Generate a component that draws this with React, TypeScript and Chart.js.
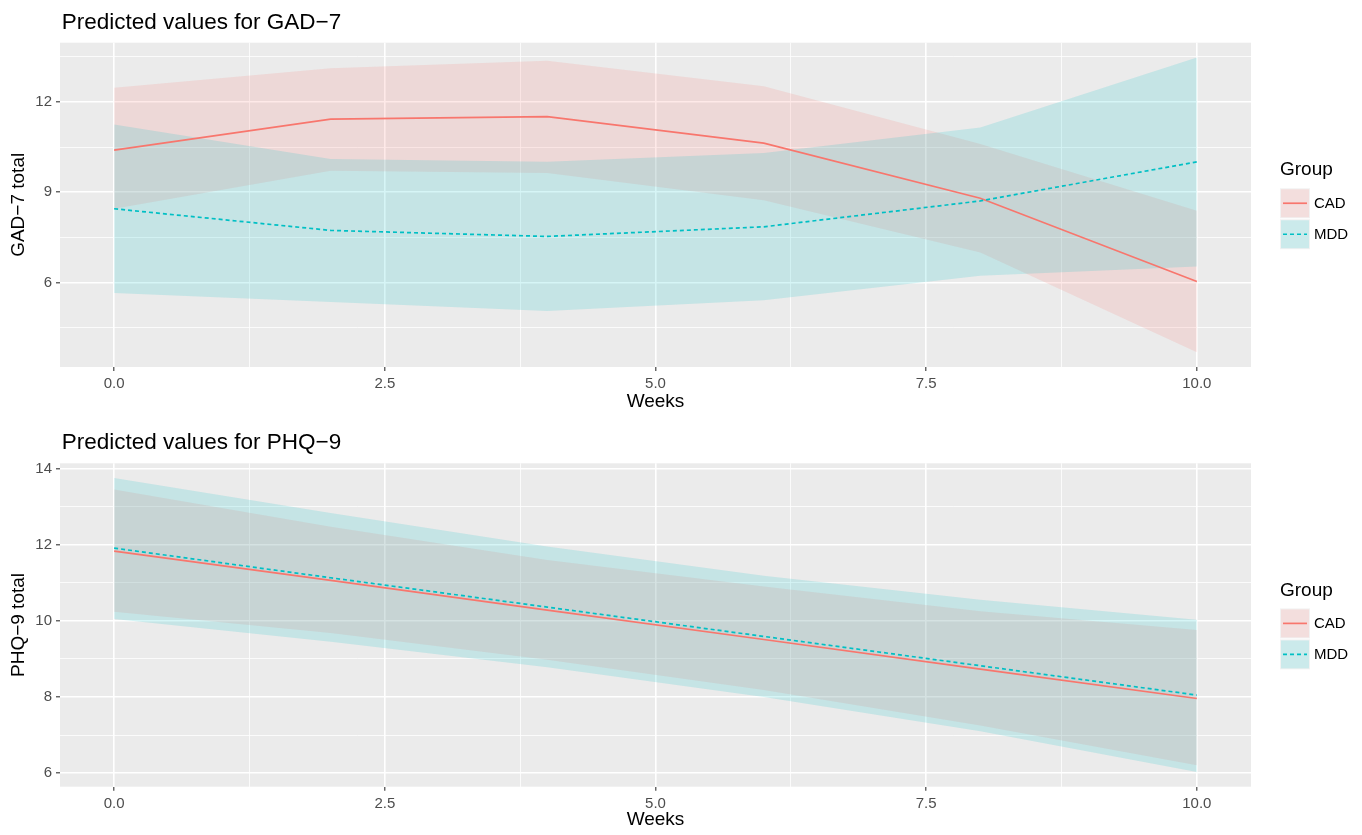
import React, { useEffect, useRef } from 'react';
import { Chart, registerables } from 'chart.js';

Chart.register(...registerables);

// ---------------- data ----------------
const weeks = [0, 2, 4, 6, 8, 10];
const groups = ['CAD', 'MDD'];

const gadCadFit = [10.4, 11.43, 11.51, 10.63, 8.8, 6.03];
const gadCadLower = [8.45, 9.71, 9.64, 8.73, 7.0, 3.68];
const gadCadUpper = [12.47, 13.12, 13.37, 12.52, 10.6, 8.38];
const gadMddFit = [8.45, 7.73, 7.53, 7.85, 8.71, 10.01];
const gadMddLower = [5.65, 5.35, 5.05, 5.41, 6.22, 6.53];
const gadMddUpper = [11.25, 10.1, 10.01, 10.3, 11.15, 13.48];

const phqCadFit = [11.83, 11.06, 10.28, 9.51, 8.73, 7.96];
const phqCadLower = [10.24, 9.68, 8.98, 8.18, 7.25, 6.21];
const phqCadUpper = [13.45, 12.47, 11.6, 10.9, 10.25, 9.76];
const phqMddFit = [11.91, 11.13, 10.36, 9.59, 8.82, 8.05];
const phqMddLower = [10.05, 9.45, 8.78, 8.0, 7.1, 6.03];
const phqMddUpper = [13.75, 12.83, 11.95, 11.18, 10.55, 10.03];

const xMajorTicks = [0, 2.5, 5, 7.5, 10];
const xMinorTicks = [1.25, 3.75, 6.25, 8.75];
const gadMajorTicks = [6, 9, 12];
const gadMinorTicks = [4.5, 7.5, 10.5, 13.5];
const phqMajorTicks = [6, 8, 10, 12, 14];
const phqMinorTicks = [7, 9, 11, 13];

// ---------------- style ----------------
const FONT = '"Liberation Sans", Arial, Helvetica, sans-serif';
const LINE_COLORS = ['#F8766D', '#00BFC4'];
const FILL_COLORS = ['rgba(248,118,109,0.16)', 'rgba(0,191,196,0.16)'];
const DASHES: number[][] = [[], [4, 3]];
const W = 1362;
const PANEL_LEFT = 60;
const PANEL_RIGHT = 1251;

const ggPlugin = {
  id: 'gg',
  beforeDraw(chart: any) {
    const { ctx, chartArea: a } = chart;
    ctx.save();
    ctx.fillStyle = '#EBEBEB';
    ctx.fillRect(a.left, a.top, a.right - a.left, a.bottom - a.top);
    ctx.restore();
  },
  afterDraw(chart: any, _args: any, opts: any) {
    const { ctx, chartArea: a } = chart;
    ctx.save();
    ctx.fillStyle = '#000000';
    ctx.textAlign = 'left';
    ctx.textBaseline = 'alphabetic';
    ctx.font = `22.5px ${FONT}`;
    ctx.fillText(opts.title, a.left + 1.7, a.top - 14);

    const mid = (a.top + a.bottom) / 2;
    const lx = 1280;
    ctx.font = `19px ${FONT}`;
    ctx.fillText('Group', lx, mid - 29.5);
    groups.forEach((g, i) => {
      const ky = mid - 16.6 + i * 31;
      ctx.fillStyle = '#F2F2F2';
      ctx.fillRect(lx, ky, 30, 30);
      ctx.fillStyle = FILL_COLORS[i];
      ctx.fillRect(lx + 1, ky + 1, 28, 28);
      ctx.beginPath();
      ctx.strokeStyle = LINE_COLORS[i];
      ctx.lineWidth = 1.7;
      ctx.setLineDash(DASHES[i]);
      ctx.moveTo(lx + 3, ky + 15);
      ctx.lineTo(lx + 27, ky + 15);
      ctx.stroke();
      ctx.setLineDash([]);
      ctx.fillStyle = '#000000';
      ctx.font = `15px ${FONT}`;
      ctx.textBaseline = 'middle';
      ctx.fillText(g, lx + 34, ky + 15.5);
      ctx.textBaseline = 'alphabetic';
    });
    ctx.restore();
  },
};

type Series = { fit: number[]; lower: number[]; upper: number[] };

type PanelProps = {
  top: number;
  height: number;
  panelTop: number;
  panelBottom: number;
  title: string;
  yTitle: string;
  series: Series[];
  yMajor: number[];
  yMinor: number[];
};

const pts = (ys: number[]) => weeks.map((x, i) => ({ x, y: ys[i] }));

function Panel(props: PanelProps) {
  const ref = useRef<HTMLCanvasElement | null>(null);
  useEffect(() => {
    if (!ref.current) return;
    const { series, yMajor, yMinor } = props;
    const all = series.flatMap((s) => [...s.fit, ...s.lower, ...s.upper]);
    const lo = Math.min(...all);
    const hi = Math.max(...all);
    const pad = (hi - lo) * 0.05;

    const lineDs = (i: number) => ({
      label: groups[i],
      data: pts(series[i].fit),
      borderColor: LINE_COLORS[i],
      borderWidth: 1.7,
      borderDash: DASHES[i],
      pointRadius: 0,
      tension: 0,
      fill: false,
    });
    const bandDs = (i: number) => [
      {
        label: groups[i] + ' upper',
        data: pts(series[i].upper),
        borderWidth: 0,
        borderColor: 'rgba(0,0,0,0)',
        backgroundColor: FILL_COLORS[i],
        pointRadius: 0,
        tension: 0,
        fill: '+1',
      },
      {
        label: groups[i] + ' lower',
        data: pts(series[i].lower),
        borderWidth: 0,
        borderColor: 'rgba(0,0,0,0)',
        pointRadius: 0,
        tension: 0,
        fill: false,
      },
    ];

    const xAll = [...xMajorTicks, ...xMinorTicks].sort((a, b) => a - b);
    const yAll = [...yMajor, ...yMinor].sort((a, b) => a - b);

    const chart = new Chart(ref.current, {
      type: 'line',
      data: {
        datasets: [lineDs(1), lineDs(0), ...bandDs(1), ...bandDs(0)] as any,
      },
      plugins: [ggPlugin as any],
      options: {
        animation: false,
        responsive: false,
        devicePixelRatio: 1,
        events: [],
        layout: { padding: { top: props.panelTop, left: 0, right: W - PANEL_RIGHT, bottom: 0 } },
        plugins: {
          legend: { display: false },
          tooltip: { enabled: false },
          title: { display: false },
          gg: { title: props.title },
        } as any,
        scales: {
          x: {
            type: 'linear',
            min: -0.5,
            max: 10.5,
            afterBuildTicks: (s: any) => {
              s.ticks = xAll.map((v) => ({ value: v }));
            },
            afterFit: (s: any) => {
              s.height = props.height - props.panelBottom;
            },
            border: { display: false },
            grid: {
              color: '#FFFFFF',
              lineWidth: (c: any) => (xMajorTicks.includes(c.tick?.value) ? 1.6 : 0.8),
              tickColor: (c: any) => (xMajorTicks.includes(c.tick?.value) ? '#333333' : 'rgba(0,0,0,0)'),
              tickLength: 4,
              tickWidth: 1.1,
              drawTicks: true,
            },
            ticks: {
              autoSkip: false,
              maxRotation: 0,
              padding: 4,
              color: '#4D4D4D',
              font: { family: FONT, size: 15 },
              callback: (v: any) => (xMajorTicks.includes(Number(v)) ? Number(v).toFixed(1) : ''),
            },
            title: {
              display: true,
              text: 'Weeks',
              color: '#000000',
              font: { family: FONT, size: 19 },
              padding: { top: 0, bottom: 4 },
            },
          },
          y: {
            type: 'linear',
            min: lo - pad,
            max: hi + pad,
            afterBuildTicks: (s: any) => {
              s.ticks = yAll.map((v) => ({ value: v }));
            },
            afterFit: (s: any) => {
              s.width = PANEL_LEFT;
            },
            border: { display: false },
            grid: {
              color: '#FFFFFF',
              lineWidth: (c: any) => (yMajor.includes(c.tick?.value) ? 1.6 : 0.8),
              tickColor: (c: any) => (yMajor.includes(c.tick?.value) ? '#333333' : 'rgba(0,0,0,0)'),
              tickLength: 4,
              tickWidth: 1.1,
              drawTicks: true,
            },
            ticks: {
              autoSkip: false,
              padding: 4,
              color: '#4D4D4D',
              font: { family: FONT, size: 15 },
              callback: (v: any) => (yMajor.includes(Number(v)) ? String(v) : ''),
            },
            title: {
              display: true,
              text: props.yTitle,
              color: '#000000',
              font: { family: FONT, size: 19 },
              padding: { top: 7.4, bottom: 0 },
            },
          },
        },
      } as any,
    });
    return () => chart.destroy();
  }, []);

  return (
    <canvas
      ref={ref}
      width={W}
      height={props.height}
      style={{ position: 'absolute', left: 0, top: props.top, width: W, height: props.height, display: 'block' }}
    />
  );
}

export default function App() {
  return (
    <div style={{ position: 'absolute', left: 0, top: 0, width: W, height: 835, background: '#FFFFFF' }}>
      <Panel
        top={0}
        height={417}
        panelTop={42.7}
        panelBottom={367}
        title="Predicted values for GAD−7"
        yTitle="GAD−7 total"
        series={[
          { fit: gadCadFit, lower: gadCadLower, upper: gadCadUpper },
          { fit: gadMddFit, lower: gadMddLower, upper: gadMddUpper },
        ]}
        yMajor={gadMajorTicks}
        yMinor={gadMinorTicks}
      />
      <Panel
        top={417}
        height={418}
        panelTop={46.3}
        panelBottom={369.7}
        title="Predicted values for PHQ−9"
        yTitle="PHQ−9 total"
        series={[
          { fit: phqCadFit, lower: phqCadLower, upper: phqCadUpper },
          { fit: phqMddFit, lower: phqMddLower, upper: phqMddUpper },
        ]}
        yMajor={phqMajorTicks}
        yMinor={phqMinorTicks}
      />
    </div>
  );
}
